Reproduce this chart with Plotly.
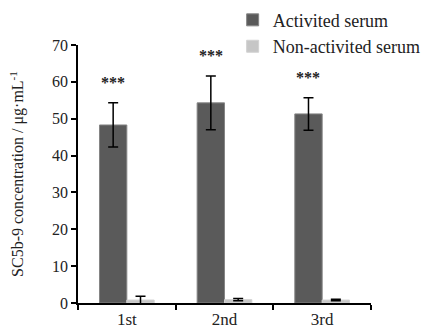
import plotly.graph_objects as go

categories = ["1st", "2nd", "3rd"]
activated = [48.3, 54.3, 51.3]
activated_err = [6.0, 7.3, 4.4]
nonactivated = [0.8, 0.9, 0.8]
nonactivated_err = [1.0, 0.3, 0.2]
star_labels = ["***", "***", "***"]
y_ticks = [0, 10, 20, 30, 40, 50, 60, 70]

font_family = "Liberation Serif, Times New Roman, serif"

fig = go.Figure()
fig.add_trace(go.Bar(
    x=categories, y=activated, name="Activited serum",
    marker=dict(color="#5a5a5a", line=dict(color="#858585", width=1)),
    error_y=dict(type="data", array=activated_err, color="black", thickness=1.5, width=5),
))
fig.add_trace(go.Bar(
    x=categories, y=nonactivated, name="Non-activited serum",
    marker=dict(color="#c6c6c6", line=dict(color="#d2d2d2", width=1)),
    error_y=dict(type="data", array=nonactivated_err, color="black", thickness=1.5, width=5),
))

# significance stars above activated bars
for i, c in enumerate(categories):
    fig.add_annotation(
        x=c, xref="x", y=activated[i] + activated_err[i] + 5.5, yref="y",
        text="<b>" + star_labels[i] + "</b>", showarrow=False, xshift=-14,
        font=dict(family=font_family, size=16, color="#222222"),
    )

fig.update_layout(
    width=423, height=331,
    margin=dict(l=78, r=52, t=45, b=28, autoexpand=False),
    paper_bgcolor="white", plot_bgcolor="white",
    barmode="group", bargap=0.44, bargroupgap=0,
    font=dict(family=font_family, size=16, color="black"),
    showlegend=True,
    legend=dict(
        xref="container", yref="container",
        x=0.55, y=0.995, xanchor="left", yanchor="top",
        font=dict(family=font_family, size=18, color="#222222"),
        bgcolor="rgba(0,0,0,0)", itemwidth=30,
        tracegroupgap=0,
    ),
)
fig.update_xaxes(
    showline=True, linecolor="black", linewidth=1.5,
    ticks="outside", tickson="boundaries", ticklen=5, tickcolor="black", tickwidth=1.5,
    showgrid=False, automargin=False,
    tickfont=dict(family=font_family, size=17, color="#222222"),
)
fig.update_yaxes(
    range=[0, 70], tickvals=y_ticks,
    showline=True, linecolor="black", linewidth=1.5,
    ticks="outside", ticklen=5, tickcolor="black", tickwidth=1.5,
    showgrid=False, zeroline=False, automargin=False,
    tickfont=dict(family=font_family, size=16, color="#222222"),
    title=dict(text="SC5b-9 concentration / μg·mL<sup>-1</sup>",
               font=dict(family=font_family, size=16, color="#222222"), standoff=24),
)

fig.write_html("out.html")
